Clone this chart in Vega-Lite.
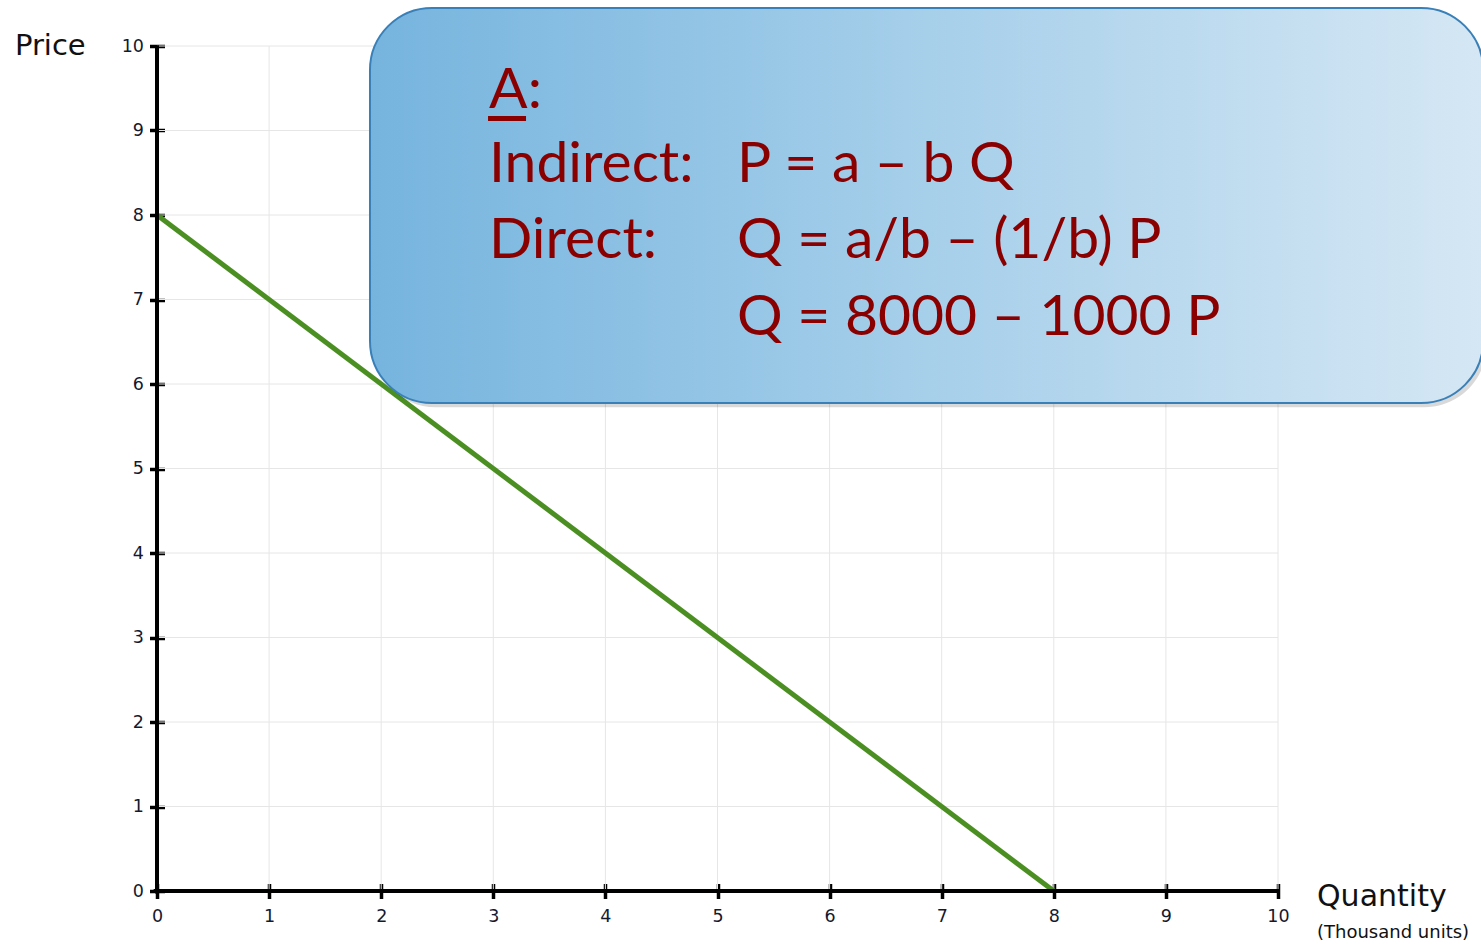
{
  "$schema": "https://vega.github.io/schema/vega-lite/v6.json",
  "width": 1121,
  "height": 845,
  "autosize": {"type": "none"},
  "padding": {"left": 157, "top": 46, "right": 203, "bottom": 55},
  "background": "white",
  "config": {"view": {"stroke": null}},
  "data": {"values": [{"one": 1}]},
  "datasets": {
    "demand": [{"Q": 0, "P": 8}, {"Q": 8, "P": 0}],
    "grid": [{"v": 1}, {"v": 2}, {"v": 3}, {"v": 4}, {"v": 5}, {"v": 6}, {"v": 7}, {"v": 8}, {"v": 9}, {"v": 10}]
  },
  "layer": [
    {
      "data": {"name": "grid"},
      "mark": {"type": "rule", "color": "#e6e6e6", "strokeWidth": 1},
      "encoding": {
        "x": {"field": "v", "type": "quantitative", "scale": {"domain": [0, 10], "nice": false}},
        "y": {"datum": 0, "type": "quantitative", "scale": {"domain": [0, 10], "nice": false}},
        "y2": {"datum": 10}
      }
    },
    {
      "data": {"name": "grid"},
      "mark": {"type": "rule", "color": "#e6e6e6", "strokeWidth": 1},
      "encoding": {
        "y": {"field": "v", "type": "quantitative"},
        "x": {"datum": 0, "type": "quantitative"},
        "x2": {"datum": 10}
      }
    },
    {
      "data": {"name": "demand"},
      "mark": {"type": "line", "color": "#4b8f22", "strokeWidth": 5, "clip": false},
      "encoding": {
        "x": {"field": "Q", "type": "quantitative",
          "axis": {"values": [0,1,2,3,4,5,6,7,8,9,10], "format": "d", "domain": false, "grid": false, "title": null,
            "tickColor": "#000", "tickWidth": 3.5, "tickSize": 15, "offset": -7.5,
            "labelFont": "DejaVu Sans", "labelFontSize": 17.5, "labelColor": "#15192e",
            "labelBaseline": "alphabetic", "labelPadding": 23, "labelFlush": false}},
        "y": {"field": "P", "type": "quantitative",
          "axis": {"values": [0,1,2,3,4,5,6,7,8,9,10], "format": "d", "domain": false, "grid": false, "title": null,
            "tickColor": "#000", "tickWidth": 3.5, "tickSize": 15, "offset": -7.5,
            "labelFont": "DejaVu Sans", "labelFontSize": 17.5, "labelColor": "#15192e",
            "labelPadding": 6, "labelFlush": false}}
      }
    },
    {
      "mark": {"type": "rule", "color": "#000", "strokeWidth": 4},
      "encoding": {"x": {"datum": -0.03}, "x2": {"datum": 10.01}, "y": {"datum": 0}}
    },
    {
      "mark": {"type": "rule", "color": "#000", "strokeWidth": 4},
      "encoding": {"y": {"datum": -0.03}, "y2": {"datum": 10.01}, "x": {"datum": 0}}
    },
    {
      "mark": {"type": "text", "text": "Price", "font": "DejaVu Sans", "fontSize": 29, "color": "#111", "align": "left", "baseline": "alphabetic"},
      "encoding": {"x": {"datum": -1.267}, "y": {"datum": 9.893}}
    },
    {
      "mark": {"type": "text", "text": "Quantity", "font": "DejaVu Sans", "fontSize": 30, "color": "#111", "align": "left", "baseline": "alphabetic"},
      "encoding": {"x": {"datum": 10.348}, "y": {"datum": -0.178}}
    },
    {
      "mark": {"type": "text", "text": "(Thousand units)", "font": "DejaVu Sans", "fontSize": 18, "color": "#111", "align": "left", "baseline": "alphabetic"},
      "encoding": {"x": {"datum": 10.348}, "y": {"datum": -0.556}}
    },
    {
      "mark": {"type": "rect", "color": "#000", "opacity": 0.15, "cornerRadius": 62},
      "encoding": {"x": {"datum": 1.93}, "x2": {"datum": 11.86}, "y": {"datum": 5.725}, "y2": {"datum": 10.40}}
    },
    {
      "mark": {"type": "rect", "cornerRadius": 62, "stroke": "#3a80b8", "strokeWidth": 2,
        "fill": {"gradient": "linear", "x1": 0, "y1": 0, "x2": 1, "y2": 0,
          "stops": [{"offset": 0, "color": "#76b4de"}, {"offset": 0.5, "color": "#a6cfea"}, {"offset": 1, "color": "#d5e7f4"}]}},
      "encoding": {"x": {"datum": 1.9}, "x2": {"datum": 11.83}, "y": {"datum": 5.775}, "y2": {"datum": 10.45}}
    },
    {
      "mark": {"type": "text", "text": "A:", "font": "Lato", "fontSize": 57, "color": "#8a0000", "align": "left", "baseline": "alphabetic"},
      "encoding": {"x": {"datum": 2.962}, "y": {"datum": 9.266}}
    },
    {
      "mark": {"type": "rule", "color": "#8a0000", "strokeWidth": 5},
      "encoding": {"x": {"datum": 2.953}, "x2": {"datum": 3.292}, "y": {"datum": 9.142}}
    },
    {
      "mark": {"type": "text", "text": "Indirect:", "font": "Lato", "fontSize": 57, "color": "#8a0000", "align": "left", "baseline": "alphabetic"},
      "encoding": {"x": {"datum": 2.962}, "y": {"datum": 8.391}}
    },
    {
      "mark": {"type": "text", "text": "P = a – b Q", "font": "Lato", "fontSize": 57, "color": "#8a0000", "align": "left", "baseline": "alphabetic"},
      "encoding": {"x": {"datum": 5.174}, "y": {"datum": 8.391}}
    },
    {
      "mark": {"type": "text", "text": "Direct:", "font": "Lato", "fontSize": 57, "color": "#8a0000", "align": "left", "baseline": "alphabetic"},
      "encoding": {"x": {"datum": 2.962}, "y": {"datum": 7.491}}
    },
    {
      "mark": {"type": "text", "text": "Q = a/b – (1/b) P", "font": "Lato", "fontSize": 57, "color": "#8a0000", "align": "left", "baseline": "alphabetic"},
      "encoding": {"x": {"datum": 5.174}, "y": {"datum": 7.491}}
    },
    {
      "mark": {"type": "text", "text": "Q = 8000 – 1000 P", "font": "Lato", "fontSize": 57, "color": "#8a0000", "align": "left", "baseline": "alphabetic"},
      "encoding": {"x": {"datum": 5.174}, "y": {"datum": 6.580}}
    }
  ]
}
